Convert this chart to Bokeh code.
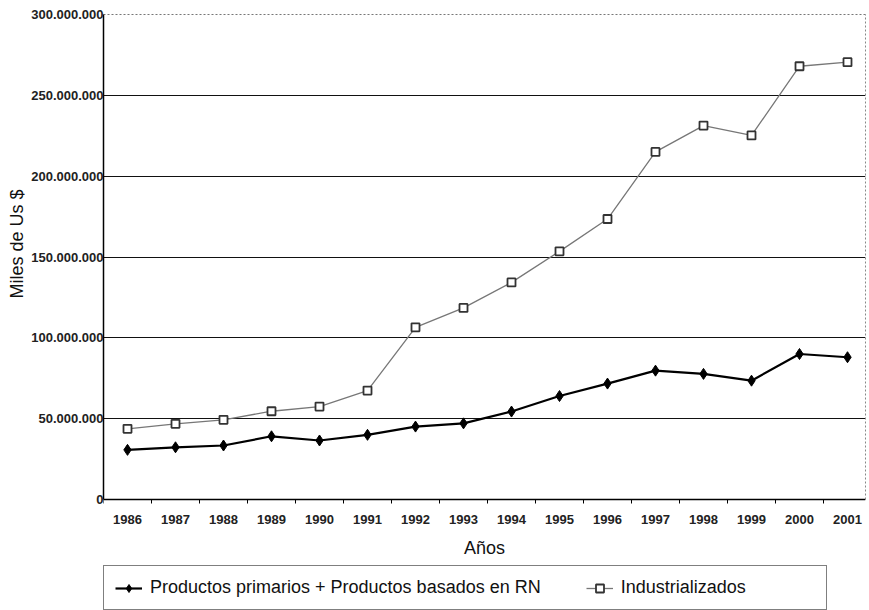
from bokeh.plotting import figure
from bokeh.models import (FixedTicker, CustomJSTickFormatter, Legend, LegendItem, Range1d,
                          LinearAxis, Title)
from bokeh.embed import file_html
from bokeh.resources import INLINE

years = list(range(1986, 2002))
primarios = [30_700_000, 32_300_000, 33_400_000, 39_100_000, 36_500_000, 40_000_000,
             45_100_000, 47_100_000, 54_400_000, 64_000_000, 71_700_000, 79_700_000,
             77_700_000, 73_500_000, 90_000_000, 88_000_000]
industrializados = [43_700_000, 46_800_000, 49_300_000, 54_600_000, 57_500_000, 67_400_000,
                    106_500_000, 118_500_000, 134_300_000, 153_500_000, 173_500_000,
                    215_000_000, 231_300_000, 225_200_000, 268_000_000, 270_500_000]
y_ticks = [0, 50_000_000, 100_000_000, 150_000_000, 200_000_000, 250_000_000, 300_000_000]
label_primarios = "Productos primarios + Productos basados en RN"
label_industrializados = "Industrializados"

FONT = "Liberation Sans"
Y_MAX = 300_000_000
# frame spans from the top line (y=14px) to the page bottom (610px); 0 sits at 499px
Y_MIN = -Y_MAX * (610 - 499) / (499 - 14)

p = figure(width=869, height=610, output_backend="svg", toolbar_location=None,
           x_range=Range1d(1985.5, 2001.375), y_range=Range1d(Y_MIN, Y_MAX),
           x_axis_location=None, y_axis_location=None,
           min_border_left=103, min_border_right=4, min_border_top=14, min_border_bottom=0)

p.background_fill_color = "white"
p.border_fill_color = "white"
p.outline_line_color = None

# grid
p.xgrid.grid_line_color = None
p.ygrid.ticker = FixedTicker(ticks=y_ticks[:-1])
p.ygrid.grid_line_color = "#111111"
p.ygrid.grid_line_width = 1.2

# y axis
yaxis = LinearAxis(bounds=(0, Y_MAX), ticker=FixedTicker(ticks=y_ticks))
yaxis.formatter = CustomJSTickFormatter(
    code=r"return Math.round(tick).toString().replace(/\B(?=(\d{3})+(?!\d))/g, '.');")
yaxis.major_tick_out = 0
yaxis.major_tick_in = 0
yaxis.minor_tick_line_color = None
yaxis.major_label_standoff = 0
yaxis.major_label_text_font = FONT
yaxis.major_label_text_font_size = "13px"
yaxis.major_label_text_font_style = "bold"
yaxis.major_label_text_color = "#222222"
yaxis.axis_line_color = "black"
yaxis.axis_line_width = 1.5
p.add_layout(yaxis, "left")

# y axis title, placed beside the 0..300M part of the plot
ytitle = Title(text="Miles de Us $", align="left", offset=312, standoff=4,
               text_font=FONT, text_font_size="18px", text_font_style="normal",
               text_color="#111111")
p.add_layout(ytitle, "left")

# x axis, drawn at y = 0 inside the tall frame
xaxis = LinearAxis(ticker=FixedTicker(ticks=years, minor_ticks=[y - 0.5 for y in years]),
                   fixed_location=0)
xaxis.major_tick_line_color = None
xaxis.minor_tick_out = 4
xaxis.minor_tick_in = 0
xaxis.minor_tick_line_color = "black"
xaxis.major_label_standoff = 9
xaxis.major_label_text_font = FONT
xaxis.major_label_text_font_size = "13px"
xaxis.major_label_text_font_style = "bold"
xaxis.major_label_text_color = "#222222"
xaxis.axis_label = "Años"
xaxis.axis_label_text_font = FONT
xaxis.axis_label_text_font_size = "18px"
xaxis.axis_label_text_font_style = "normal"
xaxis.axis_label_text_color = "#111111"
xaxis.axis_label_standoff = 11
xaxis.axis_line_color = "black"
xaxis.axis_line_width = 1.5
p.add_layout(xaxis, "below")

# dotted top and right borders of the plot area
top_border = LinearAxis(ticker=FixedTicker(ticks=[]), axis_line_color="#777777",
                        axis_line_dash="2 2", axis_line_width=1.2,
                        major_tick_line_color=None, minor_tick_line_color=None,
                        major_label_standoff=0, major_label_text_font_size="0px")
p.add_layout(top_border, "above")
right_border = LinearAxis(ticker=FixedTicker(ticks=[]), bounds=(0, Y_MAX),
                          axis_line_color="#888888", axis_line_dash="2 2",
                          axis_line_width=1,
                          major_tick_line_color=None, minor_tick_line_color=None,
                          major_label_standoff=0, major_label_text_font_size="0px")
p.add_layout(right_border, "right")

# series
l2 = p.line(years, industrializados, line_color="#777777", line_width=1.3)
s2 = p.scatter(years, industrializados, marker="square", size=8, fill_color="white",
               line_color="#333333", line_width=1.8)
l1 = p.line(years, primarios, line_color="black", line_width=2.2)
s1 = p.scatter(years, primarios, marker="diamond", size=11, fill_color="black",
               line_color="black")

legend = Legend(items=[LegendItem(label=label_primarios, renderers=[l1, s1]),
                       LegendItem(label=label_industrializados, renderers=[l2, s2])],
                location=(0, 0), orientation="horizontal",
                glyph_width=27, glyph_height=20, label_standoff=8, spacing=45,
                padding=11, label_width=194, margin=0,
                label_text_font=FONT, label_text_font_size="18px",
                label_text_color="#111111",
                border_line_color="black", border_line_width=1.2,
                background_fill_color="white", background_fill_alpha=1.0)
p.add_layout(legend, "center")

open("out.html", "w").write(file_html(p, INLINE))
